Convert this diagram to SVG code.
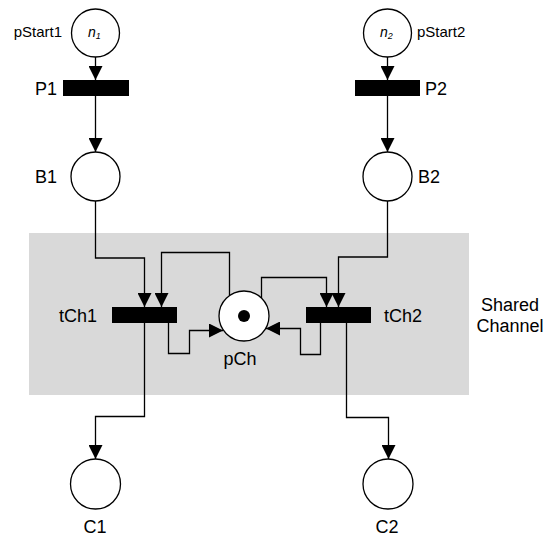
<svg xmlns="http://www.w3.org/2000/svg" width="549" height="540" viewBox="0 0 549 540">
<style>
.pl{fill:#fff;stroke:#000;stroke-width:1.3}
.tr{fill:#000}
.lbl{font-family:"Liberation Sans",Arial,sans-serif;font-size:18px;fill:#000}
.sm{font-family:"Liberation Sans",Arial,sans-serif;font-size:15px;fill:#000}
.it{font-family:"Liberation Sans",Arial,sans-serif;font-style:italic;font-size:14px;fill:#000}
.arc{fill:none;stroke:#000;stroke-width:1.3}
</style>
<defs>
<marker id="ah" markerUnits="userSpaceOnUse" markerWidth="14" markerHeight="14" refX="14" refY="7" orient="auto" viewBox="0 0 14 14">
<path d="M0,0 L14,7 L0,14 z" fill="#000"/>
</marker>
</defs>
<rect id="shared-channel" x="29" y="233" width="440" height="162" fill="#d9d9d9"/>
<text class="lbl" x="510" y="311" text-anchor="middle">Shared</text>
<text class="lbl" x="510" y="332" text-anchor="middle">Channel</text>
<g id="connectors">
<path class="arc" d="M95.5,57 V80" marker-end="url(#ah)"/>
<path class="arc" d="M387.5,57 V80" marker-end="url(#ah)"/>
<path class="arc" d="M95.5,96 V152" marker-end="url(#ah)"/>
<path class="arc" d="M387.5,96 V152" marker-end="url(#ah)"/>
<path class="arc" d="M95.5,201 V258 H144.5 V307" marker-end="url(#ah)"/>
<path class="arc" d="M387.5,201 V257 H338.5 V307" marker-end="url(#ah)"/>
<path class="arc" d="M229.5,296 V252.5 H161.5 V307" marker-end="url(#ah)"/>
<path class="arc" d="M261.5,298 V277.5 H326.5 V307" marker-end="url(#ah)"/>
<path class="arc" d="M168.5,323 V353.5 H189.5 V330.5 H223" marker-end="url(#ah)"/>
<path class="arc" d="M320.5,323 V354.5 H300.5 V328.5 H266" marker-end="url(#ah)"/>
<path class="arc" d="M144.5,323 V416.5 H95.5 V459" marker-end="url(#ah)"/>
<path class="arc" d="M346.5,323 V417.5 H388.5 V459" marker-end="url(#ah)"/>
</g>
<g id="pStart1">
<circle class="pl" cx="95.5" cy="33" r="24"/>
<text class="it" x="88" y="37">n<tspan font-size="9" dy="2">1</tspan></text>
<text class="sm" x="62" y="37" text-anchor="end">pStart1</text>
</g>
<g id="pStart2">
<circle class="pl" cx="387.5" cy="33" r="24"/>
<text class="it" x="380" y="37">n<tspan font-size="9" dy="2">2</tspan></text>
<text class="sm" x="417" y="37">pStart2</text>
</g>
<g id="P1">
<rect class="tr" x="63" y="80" width="66" height="16"/>
<text class="lbl" x="57" y="95" text-anchor="end">P1</text>
</g>
<g id="P2">
<rect class="tr" x="355" y="80" width="65" height="16"/>
<text class="lbl" x="425" y="95">P2</text>
</g>
<g id="B1">
<circle class="pl" cx="95.5" cy="176.5" r="24.5"/>
<text class="lbl" x="57" y="183" text-anchor="end">B1</text>
</g>
<g id="B2">
<circle class="pl" cx="387.5" cy="176.5" r="24.5"/>
<text class="lbl" x="418" y="183">B2</text>
</g>
<g id="tCh1">
<rect class="tr" x="112" y="307" width="65" height="16"/>
<text class="lbl" x="97" y="322" text-anchor="end">tCh1</text>
</g>
<g id="tCh2">
<rect class="tr" x="306" y="307" width="65" height="16"/>
<text class="lbl" x="384" y="322">tCh2</text>
</g>
<g id="pCh">
<circle class="pl" cx="244" cy="316" r="25"/>
<circle cx="244" cy="316" r="6" fill="#000"/>
<text class="lbl" x="240" y="365" text-anchor="middle">pCh</text>
</g>
<g id="C1">
<circle class="pl" cx="95.5" cy="484" r="25"/>
<text class="lbl" x="95" y="533" text-anchor="middle">C1</text>
</g>
<g id="C2">
<circle class="pl" cx="388" cy="484" r="25"/>
<text class="lbl" x="387" y="533" text-anchor="middle">C2</text>
</g>
</svg>
